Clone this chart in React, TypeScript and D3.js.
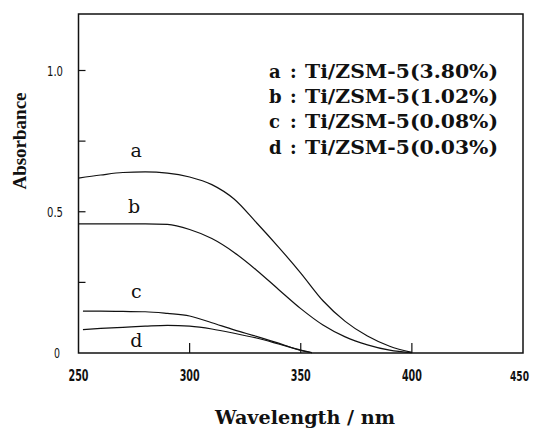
import React from "react";
import * as d3 from "d3";

// wavelength (nm) grids
const waveAB = [250, 260, 270, 280, 290, 300, 310, 320, 330, 340, 350, 360, 370, 380, 390, 400];
const waveCD = [252, 260, 270, 280, 290, 300, 310, 320, 330, 340, 350, 355];

// absorbance values
const absA = [0.619, 0.63, 0.639, 0.641, 0.637, 0.623, 0.596, 0.545, 0.462, 0.375, 0.283, 0.185, 0.112, 0.06, 0.024, 0.002];
const absB = [0.457, 0.457, 0.457, 0.457, 0.455, 0.437, 0.405, 0.356, 0.294, 0.225, 0.157, 0.099, 0.057, 0.029, 0.01, 0.001];
const absC = [0.148, 0.148, 0.147, 0.146, 0.14, 0.131, 0.107, 0.082, 0.059, 0.035, 0.009, 0.001];
const absD = [0.083, 0.087, 0.091, 0.095, 0.098, 0.095, 0.085, 0.07, 0.053, 0.032, 0.01, 0.001];

const curveLetters = ["a", "b", "c", "d"];
const legendLabels = ["Ti/ZSM-5(3.80%)", "Ti/ZSM-5(1.02%)", "Ti/ZSM-5(0.08%)", "Ti/ZSM-5(0.03%)"];

const xTicks = [250, 300, 350, 400, 450];
const yTicks = [0, 0.5, 1.0];
const yTickLabels = ["0", "0.5", "1.0"];
const yMinor = [0.25, 0.75];

const W = 536;
const H = 430;
const ink = "#111";

export default function App() {
  const x = d3.scaleLinear().domain([250, 450]).range([78.5, 523]);
  const y = d3.scaleLinear().domain([0, 1.2]).range([353, 14]);

  const line = d3
    .line<[number, number]>()
    .x((d) => x(d[0]))
    .y((d) => y(d[1]))
    .curve(d3.curveMonotoneX);

  const series = [
    { w: waveAB, v: absA },
    { w: waveAB, v: absB },
    { w: waveCD, v: absC },
    { w: waveCD, v: absD },
  ];

  // letter labels next to the curves (nm, absorbance at baseline)
  const labelAt = [
    { nm: 276, ab: 0.695 },
    { nm: 275, ab: 0.495 },
    { nm: 276, ab: 0.195 },
    { nm: 276, ab: 0.021 },
  ];

  const serif = "'Liberation Serif', 'Times New Roman', serif";
  const wideSerif = "'DejaVu Serif', 'Liberation Serif', serif";
  const narrow = "'Liberation Sans Narrow', 'DejaVu Sans Condensed', 'Liberation Sans', Arial, sans-serif";

  return (
    <svg
      width={W}
      height={H}
      viewBox={`0 0 ${W} ${H}`}
      style={{ position: "absolute", left: 0, top: 0, background: "#fff" }}
    >
      {/* frame */}
      <rect
        x={x(250)}
        y={y(1.2)}
        width={x(450) - x(250)}
        height={y(0) - y(1.2)}
        fill="none"
        stroke={ink}
        strokeWidth={1.5}
      />

      {/* bottom ticks, inward */}
      {xTicks.slice(1, -1).map((t) => (
        <line key={"xt" + t} x1={x(t)} x2={x(t)} y1={y(0)} y2={y(0) - 10} stroke={ink} strokeWidth={1.2} />
      ))}
      {/* left ticks, inward */}
      {[...yTicks.slice(1), ...yMinor].map((t) => (
        <line key={"yt" + t} x1={x(250)} x2={x(250) + 7} y1={y(t)} y2={y(t)} stroke={ink} strokeWidth={1.2} />
      ))}

      {/* x tick labels */}
      {xTicks.map((t, i) => {
        const last = i === xTicks.length - 1;
        return (
          <text
            key={"xl" + t}
            x={last ? 529 : x(t)}
            y={381}
            textAnchor={last ? "end" : "middle"}
            fontFamily={narrow}
            fontWeight="bold"
            fontSize={last ? 14 : 15}
            textLength={last ? 19 : 20}
            lengthAdjust="spacingAndGlyphs"
            fill={ink}
          >
            {t}
          </text>
        );
      })}

      {/* y tick labels */}
      {yTicks.map((t, i) => (
        <text
          key={"yl" + t}
          x={t === 0 ? 60 : 63}
          y={y(t) + 5}
          textAnchor="end"
          fontFamily={narrow}
          fontSize={14}
          textLength={t === 0 ? 6 : 16}
          lengthAdjust="spacingAndGlyphs"
          fill={ink}
        >
          {yTickLabels[i]}
        </text>
      ))}

      {/* curves */}
      {series.map((s, i) => (
        <path
          key={"c" + i}
          d={line(s.w.map((w, j) => [w, s.v[j]] as [number, number])) || ""}
          fill="none"
          stroke={ink}
          strokeWidth={1.2}
        />
      ))}

      {/* curve letters */}
      {labelAt.map((p, i) => (
        <text
          key={"cl" + i}
          x={x(p.nm)}
          y={y(p.ab)}
          textAnchor="middle"
          fontFamily={wideSerif}
          fontSize={19}
          fill={ink}
        >
          {curveLetters[i]}
        </text>
      ))}

      {/* legend */}
      {legendLabels.map((lab, i) => (
        <g key={"lg" + i} fontFamily={wideSerif} fontWeight="bold" fontSize={18} fill={ink}>
          <text x={269} y={78 + i * 25.2}>
            {curveLetters[i]}
          </text>
          <text x={290} y={78 + i * 25.2}>
            :
          </text>
          <text x={305} y={78 + i * 25.2} textLength={193} lengthAdjust="spacingAndGlyphs">
            {lab}
          </text>
        </g>
      ))}

      {/* axis titles */}
      <text
        x={215}
        y={424}
        fontFamily={wideSerif}
        fontWeight="bold"
        fontSize={18}
        textLength={180}
        lengthAdjust="spacingAndGlyphs"
        fill={ink}
      >
        Wavelength / nm
      </text>
      <text
        transform={`translate(26,141) rotate(-90)`}
        textAnchor="middle"
        fontFamily={serif}
        fontWeight="bold"
        fontSize={19}
        fill={ink}
      >
        Absorbance
      </text>
    </svg>
  );
}
